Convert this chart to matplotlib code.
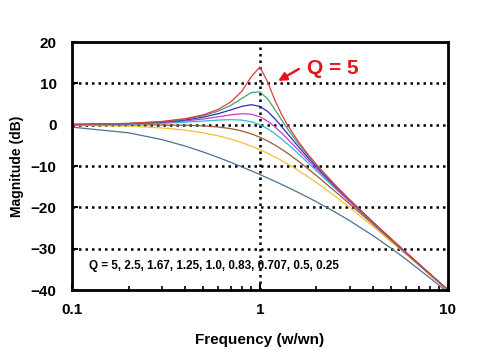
import matplotlib
matplotlib.use("Agg")
import matplotlib.pyplot as plt
from matplotlib.ticker import FixedLocator, NullFormatter

plt.rcParams['font.family'] = ['Liberation Sans', 'DejaVu Sans']

# normalised frequency w/wn
freq = [0.1, 0.2, 0.3, 0.4, 0.5, 0.6, 0.7, 0.8, 0.9, 1.0, 1.1, 1.2, 1.3, 1.4,
        1.6, 1.8, 2.0, 2.5, 3.0, 4.0, 5.0, 6.0, 8.0, 10.0]

# magnitude (dB)
mag_q5 = [0.09, 0.35, 0.80, 1.48, 2.42, 3.73, 5.53, 8.09, 11.64, 13.98, 10.34, 6.00,
          2.65, 0.00, -4.04, -7.12, -9.62, -14.44, -18.09, -23.53, -27.61, -30.89,
          -35.99, -39.91]
mag_q2_5 = [0.08, 0.32, 0.74, 1.36, 2.20, 3.31, 4.70, 6.35, 7.81, 7.96, 6.24, 3.73,
            1.27, -0.92, -4.54, -7.43, -9.84, -14.56, -18.16, -23.57, -27.63, -30.90,
            -36.00, -39.92]
mag_q1_67 = [0.07, 0.29, 0.65, 1.17, 1.86, 2.69, 3.61, 4.45, 4.86, 4.45, 3.21, 1.49,
             -0.34, -2.11, -5.25, -7.91, -10.18, -14.74, -18.28, -23.63, -27.67, -30.93,
             -36.01, -39.93]
mag_q1_25 = [0.06, 0.24, 0.53, 0.93, 1.41, 1.94, 2.41, 2.68, 2.56, 1.94, 0.87, -0.47,
             -1.92, -3.38, -6.10, -8.51, -10.63, -14.99, -18.44, -23.72, -27.72, -30.96,
             -36.03, -39.94]
mag_q1_0 = [0.04, 0.17, 0.37, 0.63, 0.90, 1.14, 1.25, 1.14, 0.73, 0.00, -0.98, -2.13,
            -3.36, -4.60, -6.98, -9.17, -11.14, -15.29, -18.63, -23.82, -27.79, -31.01,
            -36.06, -39.96]
mag_q0_707 = [0.00, -0.01, -0.04, -0.11, -0.26, -0.53, -0.93, -1.49, -2.19, -3.01, -3.92,
              -4.88, -5.86, -6.85, -8.78, -10.61, -12.30, -16.03, -19.14, -24.10, -27.97,
              -31.13, -36.12, -40.00]
mag_q0_5 = [-0.09, -0.34, -0.75, -1.29, -1.94, -2.67, -3.46, -4.30, -5.15, -6.02, -6.89,
            -7.75, -8.60, -9.43, -11.03, -12.55, -13.98, -17.21, -20.00, -24.61, -28.30,
            -31.36, -36.26, -40.09]
mag_q0_25 = [-0.57, -1.94, -3.56, -5.14, -6.59, -7.90, -9.08, -10.16, -11.14, -12.04,
             -12.88, -13.66, -14.40, -15.09, -16.37, -17.55, -18.63, -21.06, -23.18,
             -26.82, -29.89, -32.56, -36.98, -40.57]

series = [
    (mag_q0_25, '#4f7191'),
    (mag_q0_5, '#f2c234'),
    (mag_q0_707, '#9b5a34'),
    (mag_q1_0, '#33b8d6'),
    (mag_q1_25, '#c43cc4'),
    (mag_q1_67, '#2b2bc8'),
    (mag_q2_5, '#3fa46a'),
    (mag_q5, '#e23b3f'),
]

fig = plt.figure(figsize=(4.8, 3.6), dpi=100)
ax = fig.add_axes([0.15, 0.194, 0.783, 0.689])

for mag, col in series:
    ax.plot(freq, mag, color=col, linewidth=0.9)

ax.set_xscale('log')
ax.set_xlim(0.1, 10)
ax.set_ylim(-40, 20)
ax.set_yticks([-40, -30, -20, -10, 0, 10, 20])
ax.set_xticks([0.1, 1, 10])
ax.set_xticklabels(['0.1', '1', '10'])
ax.xaxis.set_minor_locator(FixedLocator(
    [0.2, 0.3, 0.4, 0.5, 0.6, 0.7, 0.8, 0.9, 2, 3, 4, 5, 6, 7, 8, 9]))
ax.xaxis.set_minor_formatter(NullFormatter())

# dotted grid
for y in [-30, -20, -10, 0, 10]:
    ax.axhline(y, color='black', linestyle=(0, (1, 1.6)), linewidth=1.8, zorder=0.5)
ax.axvline(1, color='black', linestyle=(0, (1, 1.6)), linewidth=1.8, zorder=0.5)

for s in ax.spines.values():
    s.set_linewidth(2)
ax.tick_params(which='major', direction='in', length=4, width=1.5,
               labelsize=11, pad=9)
ax.tick_params(which='minor', direction='in', length=3, width=1.2)
ax.tick_params(axis='y', pad=11)
for lab in ax.get_xticklabels() + ax.get_yticklabels():
    lab.set_fontweight('bold')

ax.set_xlabel('Frequency (w/wn)', fontsize=11, fontweight='bold', labelpad=12)
ax.set_ylabel('Magnitude (dB)', fontsize=10, fontweight='bold', labelpad=5)

ax.text(0.1235, -34.2, 'Q = 5, 2.5, 1.67, 1.25, 1.0, 0.83, 0.707, 0.5, 0.25',
        fontsize=8.4, fontweight='bold', va='center', ha='left')

ax.text(1.78, 13.7, 'Q = 5', fontsize=15, fontweight='bold', color='#e8121a',
        va='center', ha='left')
ax.annotate('', xy=(1.25, 10.6), xytext=(1.61, 13.5),
            arrowprops=dict(arrowstyle='-|>', color='#e8121a', lw=1.8,
                            mutation_scale=12, shrinkA=0, shrinkB=0))

fig.savefig('out.png', dpi=100)
